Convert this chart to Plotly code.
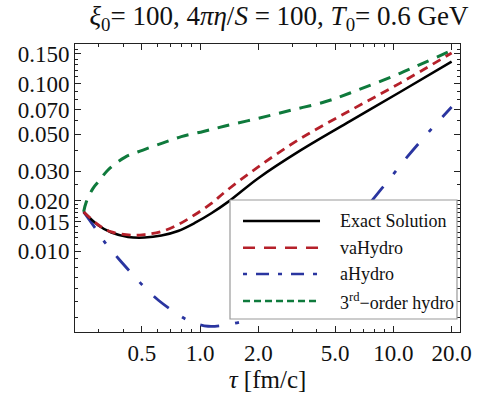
import math
import plotly.graph_objects as go

# ---- data (tau in fm/c) ----
tau_exact = [0.25, 0.297, 0.348, 0.424, 0.517, 0.631, 0.769, 0.939, 1.144, 1.396, 2.0, 3.29, 5.97, 10.83, 20.0]
exact = [0.01716, 0.0143, 0.01293, 0.01217, 0.01207, 0.0124, 0.0132, 0.01475, 0.01685, 0.01969, 0.02727, 0.0398, 0.0597, 0.0890, 0.1349]

tau_va = [0.25, 0.297, 0.348, 0.441, 0.517, 0.631, 0.769, 0.939, 1.144, 1.347, 2.0, 3.29, 5.97, 10.83, 20.0]
vahydro = [0.01716, 0.01439, 0.01304, 0.01246, 0.01258, 0.0131, 0.0144, 0.0165, 0.01927, 0.02259, 0.03186, 0.0468, 0.0690, 0.1005, 0.152]

tau_a = [0.25, 0.292, 0.316, 0.378, 0.452, 0.509, 0.609, 0.758, 0.870, 1.10, 1.61, 1.745, 2.5, 3.5, 5.0, 7.0, 8.71, 11.73, 13.74, 16.1, 18.52, 20.0]
ahydro = [0.01716, 0.01334, 0.01163, 0.00905, 0.00719, 0.0062, 0.0051, 0.00425, 0.00387, 0.00357, 0.00378, 0.00391, 0.0052, 0.0075, 0.0115, 0.0175, 0.02367, 0.03626, 0.04492, 0.05523, 0.06574, 0.0724]

tau_3rd = [0.25, 0.258, 0.2795, 0.30, 0.334, 0.408, 0.507, 0.644, 0.80, 1.04, 1.347, 2.0, 2.98, 4.43, 5.97, 10.83, 20.0]
third = [0.01716, 0.0197, 0.0237, 0.0262, 0.0305, 0.0363, 0.0401, 0.0443, 0.0482, 0.0518, 0.0558, 0.0620, 0.0695, 0.0778, 0.0878, 0.1151, 0.1574]

x_ticks = [0.5, 1.0, 2.0, 5.0, 10.0, 20.0]
x_labels = ["0.5", "1.0", "2.0", "5.0", "10.0", "20.0"]
x_minor = [0.3, 0.4, 0.6, 0.7, 0.8, 0.9, 3, 4, 6, 7, 8, 9]
y_ticks = [0.15, 0.1, 0.07, 0.05, 0.03, 0.02, 0.015, 0.01]
y_labels = ["0.150", "0.100", "0.070", "0.050", "0.030", "0.020", "0.015", "0.010"]
y_minor = [0.004, 0.005, 0.006, 0.007, 0.008, 0.009, 0.011, 0.012, 0.013, 0.014,
           0.016, 0.017, 0.018, 0.019, 0.025, 0.04, 0.06, 0.08, 0.09,
           0.11, 0.12, 0.13, 0.14, 0.16, 0.17]

names = ["Exact Solution", "vaHydro", "aHydro", "3<sup>rd</sup>\u2212order hydro"]
colors = ["#000000", "#b5202a", "#2a35a0", "#0f7a3c"]

SERIF = "Liberation Serif, Times New Roman, serif"

fig = go.Figure()
fig.add_trace(go.Scatter(x=tau_a, y=ahydro, mode="lines", line=dict(color=colors[2], width=2.8, dash="19px,16px,4px,16px", shape="spline", smoothing=1.0), showlegend=False))
fig.add_trace(go.Scatter(x=tau_3rd, y=third, mode="lines", line=dict(color=colors[3], width=3, dash="12px,9px", shape="spline", smoothing=1.0), showlegend=False))
fig.add_trace(go.Scatter(x=tau_exact, y=exact, mode="lines", line=dict(color=colors[0], width=2.5, shape="spline", smoothing=1.0), showlegend=False))
fig.add_trace(go.Scatter(x=tau_va, y=vahydro, mode="lines", line=dict(color=colors[1], width=2.8, dash="9px,6px", shape="spline", smoothing=1.0), showlegend=False))

axis_common = dict(
    type="log", showgrid=False, zeroline=False, showline=True, linecolor="#222", linewidth=1,
    mirror="allticks", ticks="inside", ticklen=6, tickcolor="#222", tickwidth=1, automargin=False,
    tickfont=dict(family=SERIF, size=23, color="#111"),
)

fig.update_xaxes(**axis_common, range=[math.log10(0.2255), math.log10(22.1)],
                 tickmode="array", tickvals=x_ticks, ticktext=x_labels,
                 minor=dict(tickmode="array", tickvals=x_minor, ticks="inside", ticklen=3, tickcolor="#222"),
                 title=dict(text="<i>τ</i> [fm/c]", font=dict(family=SERIF, size=25, color="#111"), standoff=5))
fig.update_yaxes(**axis_common, range=[math.log10(0.0033), math.log10(0.172)],
                 tickmode="array", tickvals=y_ticks, ticktext=y_labels,
                 minor=dict(tickmode="array", tickvals=y_minor, ticks="inside", ticklen=3, tickcolor="#222"))

# ---- legend drawn as a framed box (paper coordinates) ----
lx0, lx1, ly0, ly1 = 0.4026, 0.9922, 0.0451, 0.4583
shapes = [dict(type="rect", xref="paper", yref="paper", x0=lx0, x1=lx1, y0=ly0, y1=ly1,
               fillcolor="white", line=dict(color="#9a9a9a", width=1.2), layer="above")]
row_y = [0.3854, 0.2927, 0.2014, 0.1076]
leg_dash = ["solid", "12px,9px", "4px,9px,13px,9px", "7px,4px"]
annotations = []
for name, col, dsh, yy in zip(names, colors, leg_dash, row_y):
    shapes.append(dict(type="line", xref="paper", yref="paper", x0=0.4364, x1=0.6364, y0=yy, y1=yy,
                       line=dict(color=col, width=2.6, dash=dsh), layer="above"))
    annotations.append(dict(xref="paper", yref="paper", x=0.683, y=yy, xanchor="left", yanchor="middle",
                            text=name, showarrow=False, font=dict(family=SERIF, size=18, color="#111")))

fig.update_layout(
    width=479, height=402,
    margin=dict(l=75, r=19, t=44, b=70, autoexpand=False),
    paper_bgcolor="white", plot_bgcolor="white",
    title=dict(text="<i>ξ</i><sub>0</sub>= 100, 4<i>πη</i>/<i>S</i> = 100, <i>T</i><sub>0</sub>= 0.6 GeV",
               x=279/479, xanchor="center", y=1 - 16/402, yanchor="middle", yref="container",
               font=dict(family=SERIF, size=27, color="#111")),
    shapes=shapes, annotations=annotations, showlegend=False,
)

fig.write_html("out.html", config={"displayModeBar": False},
               post_script="document.body.style.margin='0';document.body.style.padding='0';")
